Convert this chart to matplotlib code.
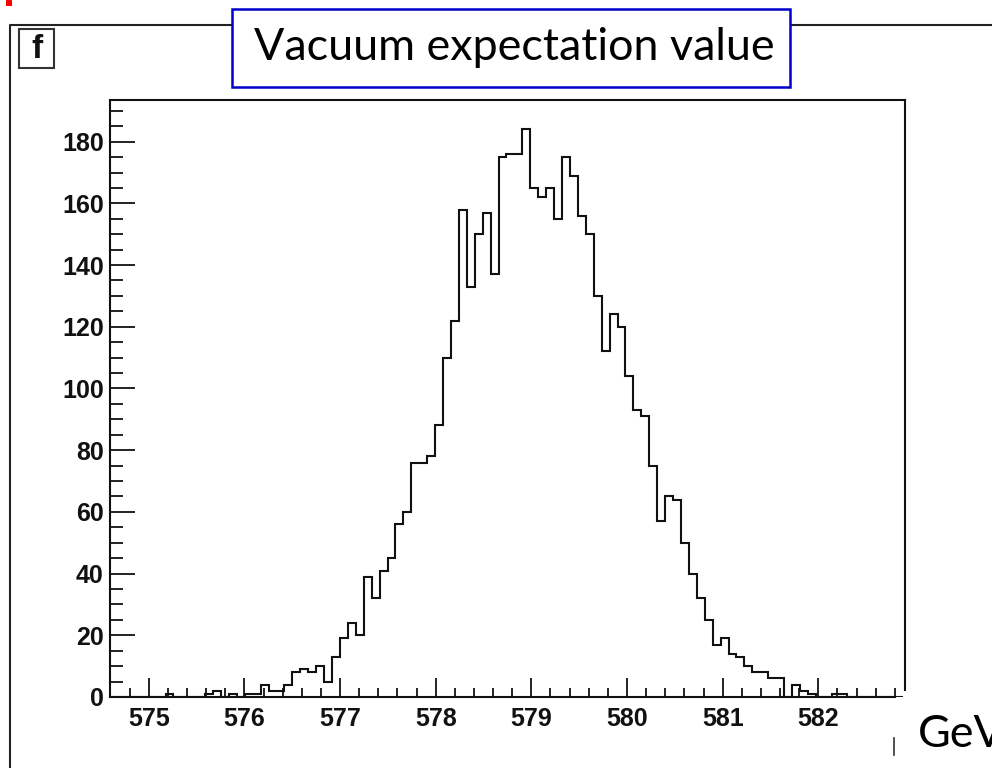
import numpy as np
import matplotlib
matplotlib.use("Agg")
import matplotlib.pyplot as plt
from matplotlib.patches import Rectangle
from matplotlib.lines import Line2D
from matplotlib.ticker import MultipleLocator

# ---------------- data ----------------
counts = [0, 0, 0, 0, 0, 0, 0, 1, 0, 0,
          0, 0, 1, 2, 0, 1, 0, 1, 1, 4,
          2, 2, 4, 8, 9, 8, 10, 5, 13, 19,
          24, 20, 39, 32, 41, 45, 56, 60, 76, 76,
          78, 88, 110, 122, 158, 133, 150, 157, 137, 175,
          176, 176, 184, 165, 162, 165, 155, 175, 169, 156,
          150, 130, 112, 124, 120, 104, 93, 91, 75, 57,
          65, 64, 50, 40, 32, 25, 17, 19, 14, 13,
          10, 8, 8, 6, 6, 0, 4, 2, 1, 0,
          0, 1, 1, 0, 0, 0, 0, 0, 0, 0]
hist_range = (574.595, 582.885)
x_lim = (574.595, 582.906)
y_lim = (0, 193.5)
x_ticks = [575, 576, 577, 578, 579, 580, 581, 582]
y_ticks = [0, 20, 40, 60, 80, 100, 120, 140, 160, 180]
title_text = "Vacuum expectation value"
unit_text = "GeV"
pad_label = "f"

W, H = 992, 768
fig = plt.figure(figsize=(W / 100, H / 100), dpi=100)
fig.patch.set_facecolor("white")


def fx(px):
    return px / W


def fy(py):
    return 1 - py / H


# ---------------- main axes ----------------
ax = fig.add_axes([fx(110), fy(697), fx(905) - fx(110), fy(100) - fy(697)])
edges = np.linspace(hist_range[0], hist_range[1], len(counts) + 1)
ax.stairs(counts, edges, color="#111111", lw=1.5, baseline=0)
ax.set_xlim(*x_lim)
ax.set_ylim(*y_lim)
ax.set_xticks(x_ticks)
ax.set_yticks(y_ticks)
ax.xaxis.set_minor_locator(MultipleLocator(0.2))
ax.yaxis.set_minor_locator(MultipleLocator(5))
ax.tick_params(axis="x", which="major", direction="in", length=13.7, width=1.3,
               pad=7, color="#111111")
ax.tick_params(axis="x", which="minor", direction="in", length=6.5, width=1.3,
               color="#111111")
ax.tick_params(axis="y", which="major", direction="in", length=18, width=1.3,
               pad=4.5, color="#111111")
ax.tick_params(axis="y", which="minor", direction="in", length=9.4, width=1.3,
               color="#111111")
for lab in ax.get_xticklabels() + ax.get_yticklabels():
    lab.set_fontfamily("Liberation Sans")
    lab.set_fontweight("bold")
    lab.set_fontsize(18)
    lab.set_color("#111111")
for sp in ax.spines.values():
    sp.set_linewidth(1.5)
    sp.set_color("#111111")
ax.spines["bottom"].set_bounds(x_lim[0], 582.8)
ax.spines["right"].set_bounds(2.3, y_lim[1])

# ---------------- decorations ----------------
# outer pad frame
fig.add_artist(Line2D([fx(10), fx(10), fx(992)], [fy(768), fy(25), fy(25)],
                      transform=fig.transFigure, color="#222222", lw=1.5))
# pad name box
fig.add_artist(Rectangle((fx(19), fy(68)), fx(54) - fx(19), fy(29) - fy(68),
                         transform=fig.transFigure, fill=False,
                         edgecolor="#333333", lw=1.5))
fig.text(fx(36.5), fy(49), pad_label, ha="center", va="center",
         fontfamily="Liberation Sans", fontweight="bold", fontsize=24,
         color="#111111")
# red mark
fig.add_artist(Rectangle((fx(6), fy(6)), fx(6), fy(0) - fy(6),
                         transform=fig.transFigure, color="#ff0000", lw=0))
# title box
fig.add_artist(Rectangle((fx(232), fy(87.3)), fx(790) - fx(232), fy(9.3) - fy(87.3),
                         transform=fig.transFigure, facecolor="white",
                         edgecolor="#0000cc", lw=1.8, zorder=5))
t = fig.text(fx(514), fy(48), title_text, ha="center", va="center",
             fontfamily="Lato", fontsize=34, color="black", zorder=6)
fig.canvas.draw()
w = t.get_window_extent().width
fs = 34 * 522 / w
t.set_fontsize(fs)
# unit label
fig.text(fx(918), fy(747), unit_text, ha="left", va="baseline",
         fontfamily="Lato", fontsize=fs, color="black")
# small stray mark
fig.add_artist(Line2D([fx(894), fx(894)], [fy(755), fy(738)],
                      transform=fig.transFigure, color="#333333", lw=1.2))

fig.savefig("out.png", dpi=100, facecolor="white")
